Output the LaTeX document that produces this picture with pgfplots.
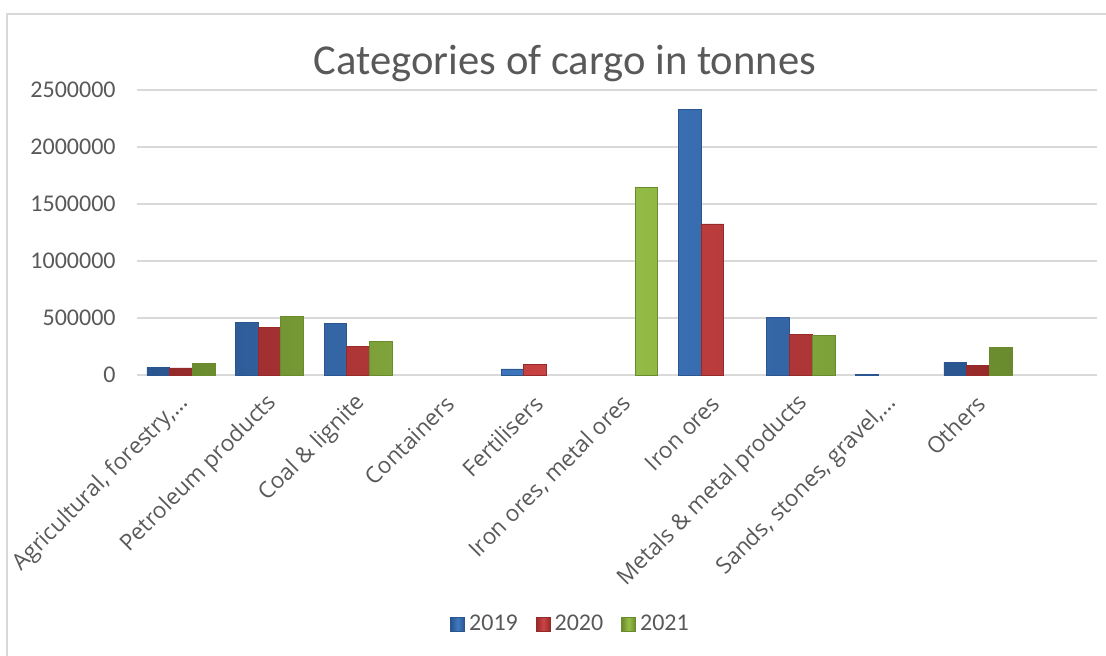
\documentclass[border=0pt]{standalone}
\usepackage{fontspec}
\setmainfont{Carlito}
\newfontfamily\labelfont{Open Sans}
\usepackage{pgfplots}
\pgfplotsset{compat=1.18}
\definecolor{txt}{HTML}{595959}
\definecolor{gridc}{HTML}{D9D9D9}
\definecolor{c19}{HTML}{4079C2}
\definecolor{c19d}{HTML}{2A558E}
\definecolor{c20}{HTML}{CC4444}
\definecolor{c20d}{HTML}{952A2A}
\definecolor{c21}{HTML}{96BF48}
\definecolor{c21d}{HTML}{6A8A2E}
\begin{document}
\begin{tikzpicture}
\path[use as bounding box] (0,0) rectangle (553pt,-327.5pt);
\draw[gridc, line width=0.75pt] (3.5pt,-340pt) -- (3.5pt,-7pt) -- (560pt,-7pt);
\node[txt, font=\fontsize{21.3}{25}\selectfont] at (282.5pt,-31.5pt) {Categories of cargo in tonnes};
\begin{axis}[
  at={(68.35pt,-187.5pt)}, anchor=south west,
  scale only axis, width=480pt, height=142.5pt,
  ybar, bar width=11.35pt,
  xmin=-0.5, xmax=10.34, ymin=0, ymax=2500000,
  ytick={0,500000,1000000,1500000,2000000,2500000},
  xtick={0,...,9},
  xticklabels={{Agricultural, forestry,…},Petroleum products,Coal \& lignite,Containers,Fertilisers,{Iron ores, metal ores},Iron ores,Metals \& metal products,{Sands, stones, gravel,…},Others},
  scaled y ticks=false,
  /pgf/number format/.cd, fixed, 1000 sep={}, assume math mode=true, /pgfplots/.cd,
  axis x line*=bottom, axis y line*=left,
  x axis line style={draw=gridc, line width=0.8pt},
  y axis line style={draw=none},
  major tick length=0pt,
  ymajorgrids, grid style={gridc, line width=0.8pt},
  yticklabel style={font=\fontsize{12}{14}\selectfont, text=txt, xshift=-7pt},
  xticklabel style={font=\labelfont\fontsize{11.3}{13}\selectfont, text=txt, rotate=45, anchor=east, yshift=-10pt, xshift=-4pt},
  legend style={at={(0.453,-0.874)}, anchor=center, draw=none, fill=none,
    legend columns=3, font=\fontsize{12}{14}\selectfont, text=txt,
    /tikz/every even column/.append style={column sep=7pt}},
  legend image code/.code={\draw[#1] (0pt,-3.5pt) rectangle (7pt,3.5pt);},
]
\addplot[bar shift=-11.35pt, draw=c19d, line width=0.4pt, left color=c19d, right color=c19d, middle color=c19] coordinates {
  (0,68000) (1,462000) (2,456000) (4,53000) (6,2331000) (7,503000) (8,2000) (9,111000)};
\addplot[bar shift=0pt, draw=c20d, line width=0.4pt, left color=c20d, right color=c20d, middle color=c20] coordinates {
  (0,62000) (1,416000) (2,248000) (4,90000) (6,1325000) (7,357000) (9,81000)};
\addplot[bar shift=11.35pt, draw=c21d, line width=0.4pt, left color=c21d, right color=c21d, middle color=c21] coordinates {
  (0,100000) (1,515000) (2,298000) (5,1646000) (7,351000) (9,243000)};
\legend{2019,2020,2021}
\end{axis}
\end{tikzpicture}
\end{document}
